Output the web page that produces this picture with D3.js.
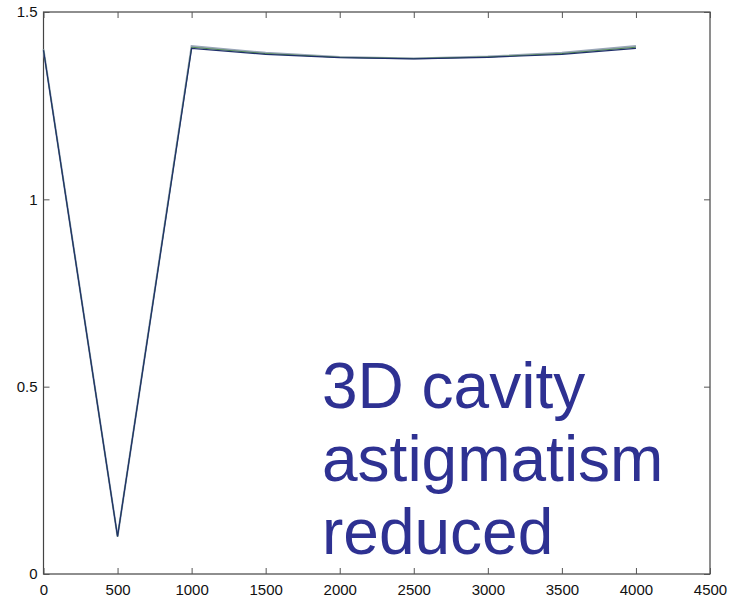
<!DOCTYPE html>
<html>
<head>
<meta charset="utf-8">
<script src="https://cdn.jsdelivr.net/npm/d3@7"></script>
<style>
  body { margin: 0; background: #fff; }
  svg { display: block; }
  .tick text { font-family: "Liberation Sans", Arial, sans-serif; font-size: 15px; fill: #111; }
</style>
</head>
<body>
<div id="container"></div>
<script>
const xValues = [0, 500, 1000, 1500, 2000, 2500, 3000, 3500, 4000]
const greySeries = [1.400, 0.100, 1.409, 1.391, 1.380, 1.376, 1.381, 1.391, 1.409]
const greenSeries = [1.399, 0.100, 1.406, 1.389, 1.379, 1.376, 1.380, 1.389, 1.406]
const blueSeries = [1.398, 0.100, 1.403, 1.387, 1.378, 1.375, 1.379, 1.387, 1.403]
const xTicks = [0, 500, 1000, 1500, 2000, 2500, 3000, 3500, 4000, 4500]
const yTicks = [0, 0.5, 1, 1.5]
const noteLines = ['3D cavity', 'astigmatism', 'reduced']

const width = 740, height = 599
const margin = { left: 43.5, right: 30, top: 12, bottom: 25 }

const svg = d3.select('#container').append('svg')
  .attr('width', width)
  .attr('height', height)

const x = d3.scaleLinear().domain([0, 4500]).range([margin.left, width - margin.right])
const y = d3.scaleLinear().domain([0, 1.5]).range([height - margin.bottom, margin.top])

// box
svg.append('rect')
  .attr('x', x(0)).attr('y', y(1.5))
  .attr('width', x(4500) - x(0)).attr('height', y(0) - y(1.5))
  .style('fill', 'none').style('stroke', '#444').style('stroke-width', 1.2)

// bottom and top axes, ticks pointing inward
svg.append('g')
  .attr('transform', `translate(0 ${y(0)})`)
  .call(d3.axisBottom(x).tickValues(xTicks).tickFormat(d3.format('d')).tickSizeInner(-6).tickSizeOuter(0).tickPadding(10))
  .call(g => g.select('.domain').remove())
  .call(g => g.selectAll('.tick line').style('stroke', '#555'))
svg.append('g')
  .attr('transform', `translate(0 ${y(1.5)})`)
  .call(d3.axisTop(x).tickValues(xTicks).tickFormat('').tickSizeInner(-6).tickSizeOuter(0))
  .call(g => g.select('.domain').remove())
  .call(g => g.selectAll('.tick line').style('stroke', '#555'))

// left and right axes
svg.append('g')
  .attr('transform', `translate(${x(0)} 0)`)
  .call(d3.axisLeft(y).tickValues(yTicks).tickFormat(d => d).tickSizeInner(-6).tickSizeOuter(0).tickPadding(6))
  .call(g => g.select('.domain').remove())
  .call(g => g.selectAll('.tick line').style('stroke', '#555'))
svg.append('g')
  .attr('transform', `translate(${x(4500)} 0)`)
  .call(d3.axisRight(y).tickValues(yTicks).tickFormat('').tickSizeInner(-6).tickSizeOuter(0))
  .call(g => g.select('.domain').remove())
  .call(g => g.selectAll('.tick line').style('stroke', '#555'))

const line = d3.line().x((d, i) => x(xValues[i])).y(d => y(d))

const series = [
  { values: greySeries, color: '#9aa6b8', w: 2 },
  { values: greenSeries, color: '#4f8a4f', w: 1 },
  { values: blueSeries, color: '#1f2f6a', w: 1.2 }
]
svg.selectAll('.series')
  .data(series)
  .enter().append('path')
  .attr('class', 'series')
  .attr('d', d => line(d.values))
  .style('fill', 'none')
  .style('stroke', d => d.color)
  .style('stroke-width', d => d.w)

// annotation
svg.append('text')
  .attr('x', 322)
  .attr('y', 408)
  .style('font-family', '"Liberation Sans", Arial, sans-serif')
  .style('font-size', '64px')
  .style('fill', '#2e3192')
  .selectAll('tspan')
  .data(noteLines)
  .enter().append('tspan')
  .attr('x', 322)
  .attr('dy', (d, i) => i === 0 ? 0 : 73)
  .text(d => d)
</script>
</body>
</html>
